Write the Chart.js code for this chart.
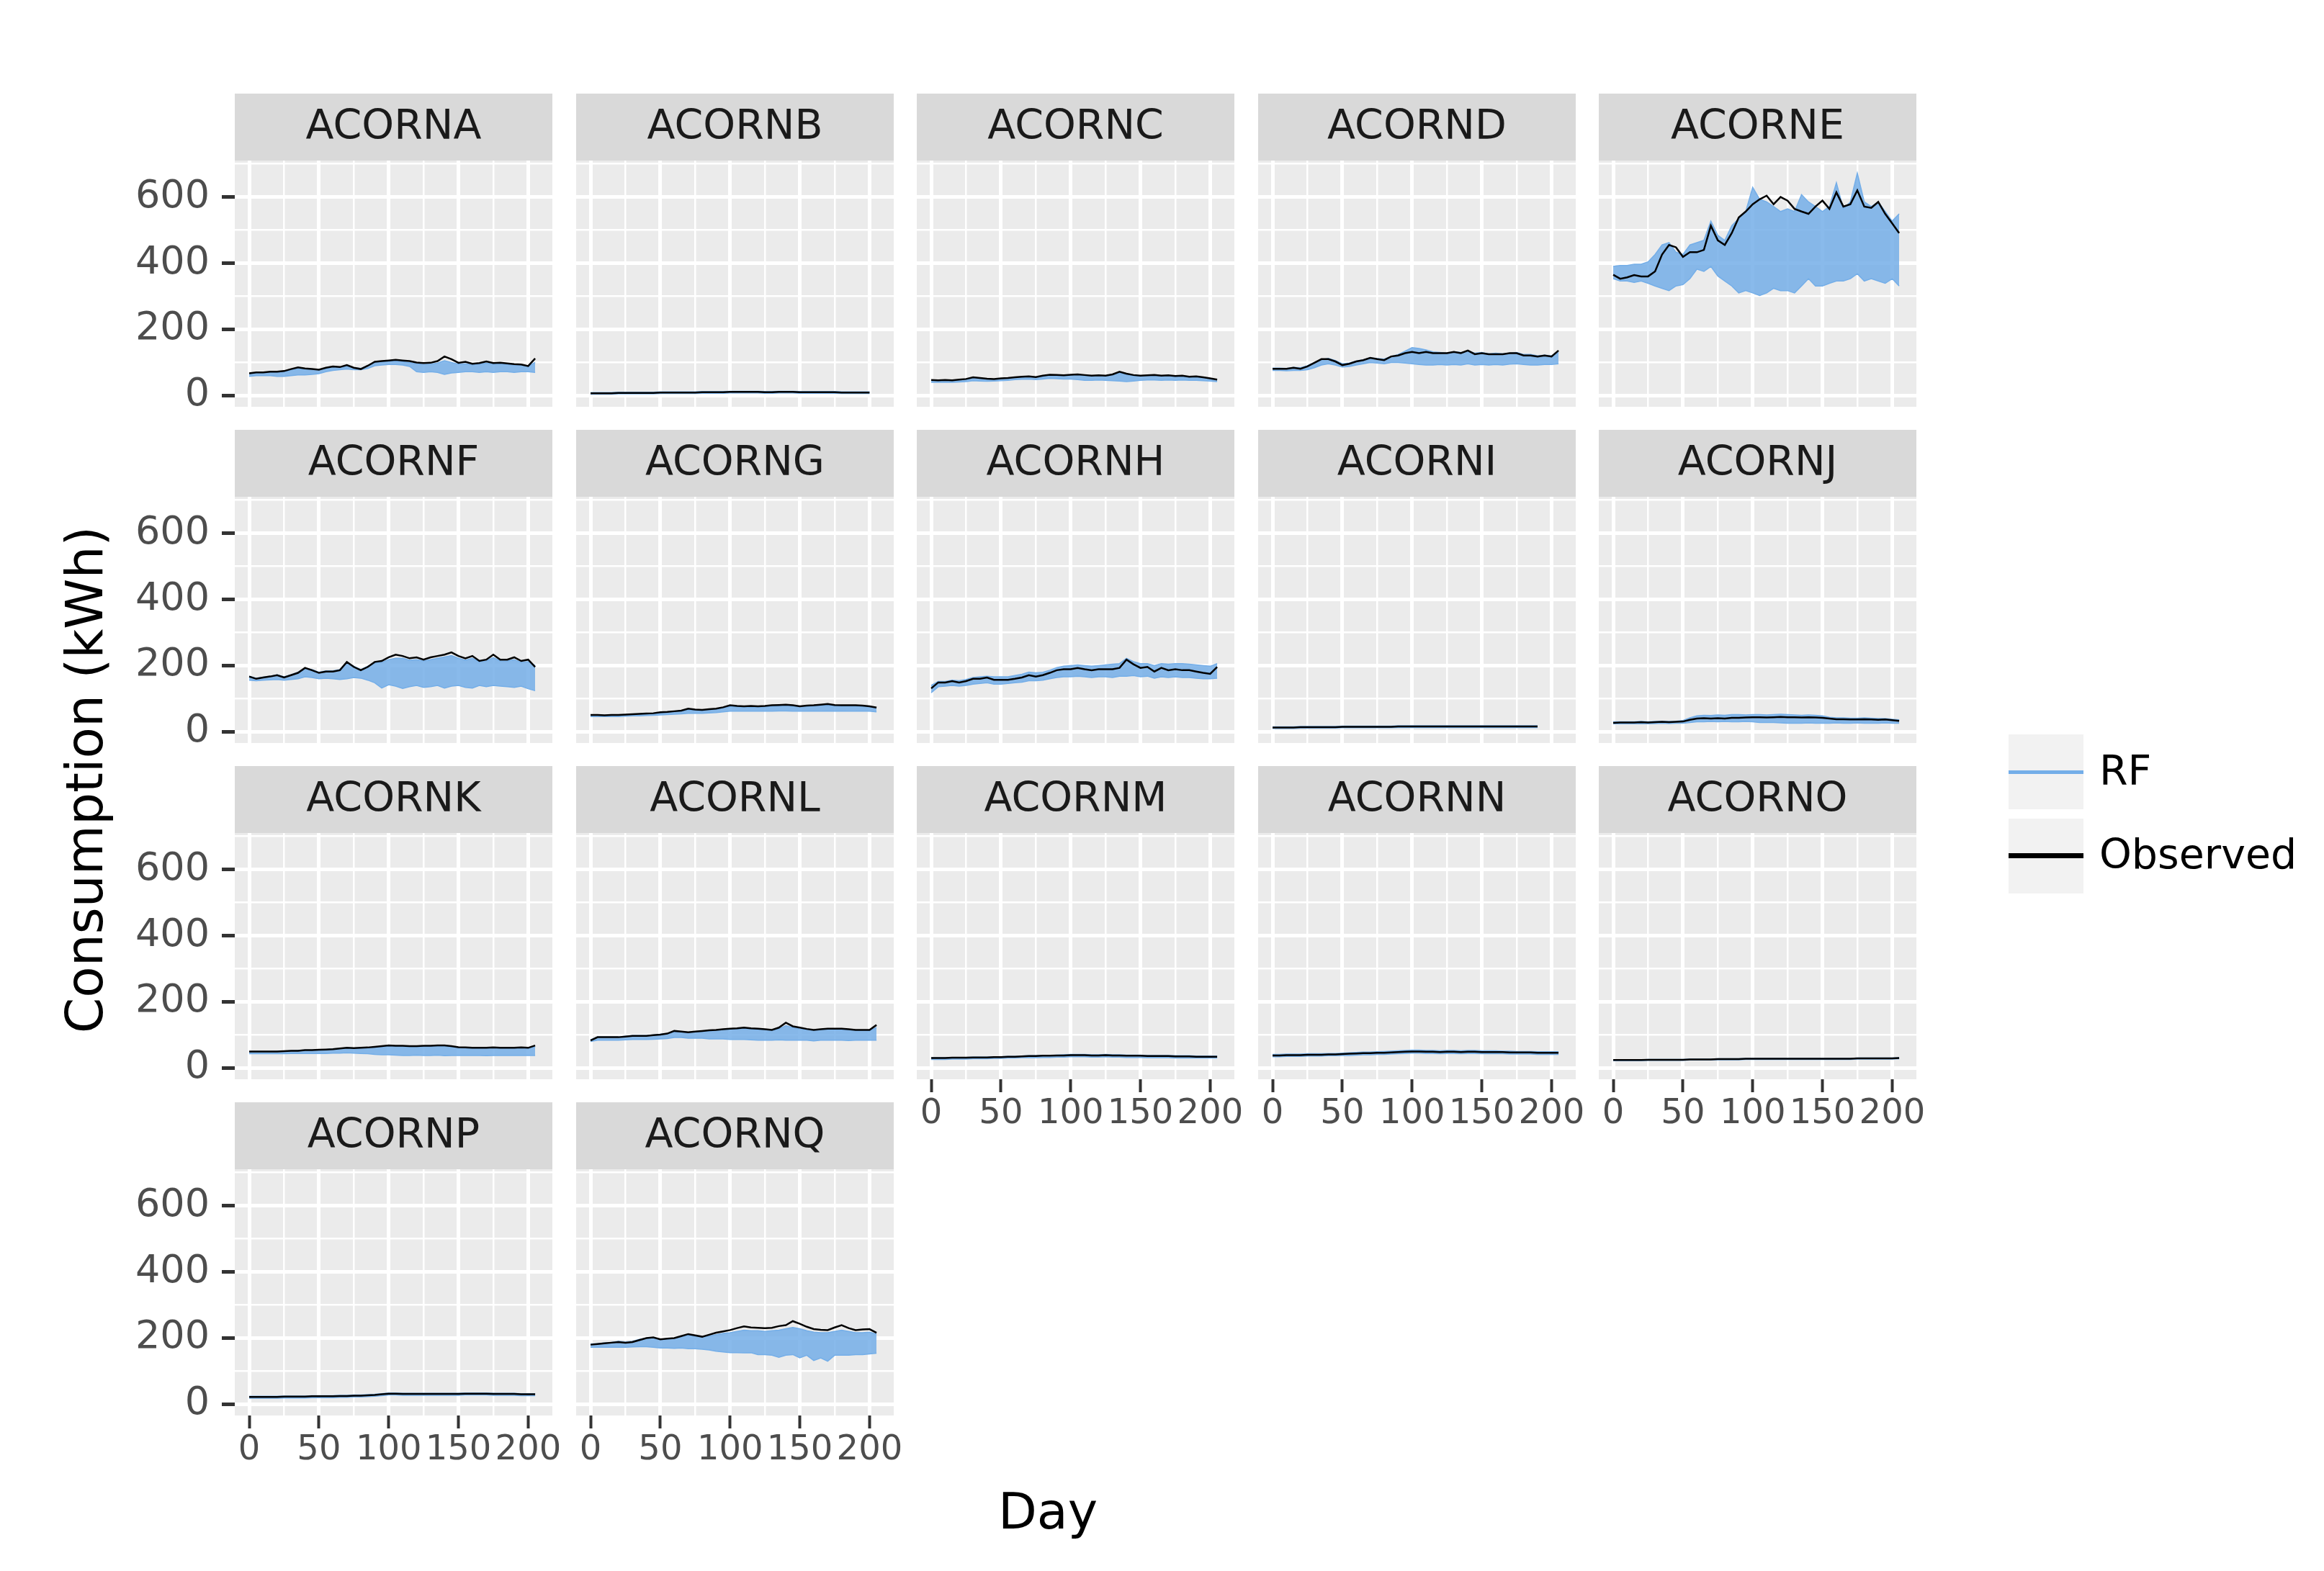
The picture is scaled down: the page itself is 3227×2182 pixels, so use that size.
<!DOCTYPE html>
<html>
<head>
<meta charset="utf-8">
<script src="https://cdn.jsdelivr.net/npm/chart.js@4.4.1/dist/chart.umd.min.js"></script>
<style>
  body { margin: 0; background: #fff; width: 3227px; height: 2182px; position: relative; overflow: hidden; font-family: "DejaVu Sans", sans-serif; }
  canvas { position: absolute; }
  #ytitle { position: absolute; left: 117px; top: 1083px; transform: translate(-50%, -50%) rotate(-90deg); font-size: 71px; white-space: nowrap; color: #000; }
  #xtitle { position: absolute; left: 1455px; top: 2099px; transform: translate(-50%, -50%); font-size: 70px; color: #000; }
  .key { position: absolute; left: 2789px; width: 104px; height: 104px; background: #f2f2f2; }
  .key div { position: absolute; left: 0; width: 104px; }
  .lab { position: absolute; left: 2915px; font-size: 57px; color: #000; transform: translateY(-50%); white-space: nowrap; }
</style>
</head>
<body>
<div id="ytitle">Consumption (kWh)</div>
<div id="xtitle">Day</div>
<div class="key" style="top:1020px"><div style="top:50px;height:5px;background:#74aee8"></div></div>
<div class="lab" style="top:1070px">RF</div>
<div class="key" style="top:1137px"><div style="top:48px;height:7px;background:#000"></div></div>
<div class="lab" style="top:1186px">Observed</div>
<script>
// days sampled every 5 days
const days = [0,5,10,15,20,25,30,35,40,45,50,55,60,65,70,75,80,85,90,95,100,105,110,115,120,125,130,135,140,145,150,155,160,165,170,175,180,185,190,195,200,205];

const obsA = [67,70,70,72,72,74,80,85,82,80,78,84,88,86,92,84,80,90,102,104,106,108,106,104,100,98,99,104,118,110,99,102,96,98,103,98,99,97,95,94,89,112];
const rfHiA = [66,68,68,70,70,72,78,80,80,80,78,82,86,84,88,84,82,90,100,102,104,104,102,100,96,94,95,98,105,100,95,96,93,95,98,95,96,94,92,92,88,100];
const rfLoA = [58,60,60,60,58,58,60,62,62,64,66,72,76,78,80,78,78,82,90,92,94,94,92,88,72,70,72,70,64,68,70,72,72,70,72,70,72,72,70,72,72,70];

const obsB = [7,7,7,7,8,8,8,8,8,8,9,9,9,9,9,9,10,10,10,10,11,11,11,11,11,10,10,11,11,11,10,10,10,10,10,10,9,9,9,9,9,null];
const rfHiB = [9,9,9,9,10,10,10,10,10,10,11,11,11,11,11,11,12,12,12,12,13,13,13,13,13,12,12,13,13,13,12,12,12,12,12,12,11,11,11,11,11,null];
const rfLoB = [4,4,4,4,5,5,5,5,5,5,6,6,6,6,6,6,7,7,7,7,8,8,8,8,8,7,7,8,8,8,7,7,7,7,7,7,6,6,6,6,6,null];

const obsC = [47,46,47,46,48,50,55,53,51,50,52,53,55,57,58,56,60,63,62,61,63,64,62,60,61,60,64,72,66,62,60,61,62,60,61,59,60,57,58,55,52,48];
const rfHiC = [46,45,46,45,47,49,53,52,50,49,51,52,54,56,57,55,58,61,60,60,61,62,60,59,60,59,62,68,64,60,59,60,60,59,60,58,58,56,57,54,51,47];
const rfLoC = [40,40,40,40,41,42,45,44,43,44,45,46,48,49,50,48,50,52,51,50,50,48,46,46,47,46,45,44,42,44,46,47,47,46,47,46,47,46,46,45,44,42];

const obsD = [81,81,81,84,81,88,99,110,110,103,92,96,103,107,114,110,107,118,121,128,132,128,132,128,128,128,132,128,136,125,128,125,125,125,128,128,121,121,118,121,118,136];
const rfHiD = [83,83,82,85,84,90,100,108,112,106,96,98,104,108,114,112,110,118,124,134,145,142,138,132,130,128,132,130,134,128,130,126,128,126,128,130,124,124,120,122,120,130];
const rfLoD = [76,76,75,76,76,78,84,92,96,92,86,88,92,96,100,98,96,100,100,98,96,94,92,92,94,92,94,92,96,92,94,92,94,92,95,96,94,92,92,94,94,96];

const obsE = [365,353,357,364,360,360,375,426,455,448,419,433,433,440,513,469,455,491,538,556,578,593,604,578,600,589,564,556,549,571,589,564,614,571,578,620,571,567,585,549,520,491];
const rfHiE = [390,393,393,397,397,404,426,455,462,433,426,455,462,469,527,484,469,513,535,556,629,593,585,571,556,564,556,607,585,571,556,571,643,564,585,672,585,571,585,556,527,549];
const rfLoE = [353,346,346,342,346,339,331,324,317,331,335,353,382,375,390,361,346,331,310,317,310,302,310,324,317,317,310,331,353,331,331,339,346,346,353,368,346,353,346,339,353,331];

const obsF = [167,160,164,167,171,164,171,178,193,186,178,182,182,186,211,196,186,196,211,214,225,233,229,222,225,218,225,229,233,240,229,222,229,214,218,233,218,218,225,214,218,196];
const rfHiF = [168,162,165,168,172,166,172,180,192,188,180,184,184,188,210,198,188,198,208,210,218,222,222,216,218,214,218,222,226,230,222,216,222,212,214,224,214,214,218,210,212,200];
const rfLoF = [156,154,156,157,158,156,158,160,166,164,160,162,160,158,160,164,162,156,148,132,142,138,131,136,140,134,136,140,132,138,140,134,132,140,136,140,138,136,134,138,130,124];

const obsG = [51,51,50,51,51,52,53,54,55,56,59,60,62,64,70,67,66,68,70,74,80,78,77,78,77,78,80,81,82,80,77,79,80,82,84,81,80,80,80,79,77,73];
const rfHiG = [50,50,50,50,50,51,52,53,54,55,57,58,60,62,66,65,64,66,68,72,76,76,75,75,75,76,77,78,79,78,76,77,78,79,80,79,78,78,78,77,76,72];
const rfLoG = [46,46,46,46,46,47,48,48,49,50,51,52,53,54,56,56,56,57,58,60,62,62,62,62,62,62,62,63,63,62,62,62,63,62,63,62,63,62,62,63,62,60];

const obsH = [131,149,149,153,149,153,160,160,164,157,157,157,160,164,171,167,171,178,186,189,189,193,189,186,189,189,189,193,218,204,193,196,182,193,186,189,186,186,182,178,175,196];
const rfHiH = [140,152,152,156,154,158,164,166,168,166,166,166,170,174,180,178,180,186,194,198,200,202,200,198,200,202,204,206,222,212,206,206,200,206,204,206,206,204,202,200,198,206];
const rfLoH = [118,136,138,140,138,140,144,146,148,144,144,146,148,150,154,154,156,160,164,166,166,168,166,164,166,166,164,168,168,170,166,168,162,166,164,166,164,164,162,160,160,162];

const obsI = [13,13,13,13,14,14,14,14,14,14,15,15,15,15,15,15,15,15,16,16,16,16,16,16,16,16,16,16,16,16,16,16,16,16,16,16,16,16,16,null,null,null];
const rfHiI = [15,15,15,15,16,16,16,16,16,16,17,17,17,17,17,17,17,17,18,18,18,18,18,18,18,18,18,18,18,18,18,18,18,18,18,18,18,18,18,null,null,null];
const rfLoI = [10,10,10,10,11,11,11,11,11,11,12,12,12,12,12,12,12,12,13,13,13,13,13,13,13,13,13,13,13,13,13,13,13,13,13,13,13,13,13,null,null,null];

const obsJ = [27,28,28,28,29,28,29,30,29,30,31,36,40,41,40,41,40,42,42,43,44,44,43,44,45,44,44,43,44,43,42,40,38,38,37,37,38,37,36,37,35,33];
const rfHiJ = [30,30,30,30,31,30,31,32,31,32,34,42,48,50,49,51,50,52,52,51,52,52,51,52,53,52,51,50,51,50,48,44,42,42,41,41,42,41,40,40,38,36];
const rfLoJ = [24,24,24,24,25,24,25,26,25,26,26,28,30,30,31,30,31,30,30,31,30,28,28,28,27,26,26,26,27,26,26,26,27,26,26,27,26,26,26,27,26,26];

const obsK = [50,50,50,50,50,51,52,52,54,54,55,56,57,59,61,60,61,62,64,66,68,67,67,66,66,67,67,68,68,66,63,62,61,61,61,62,61,61,61,62,61,68];
const rfHiK = [50,50,50,50,51,51,52,53,54,54,55,56,58,59,61,60,61,62,63,64,66,65,65,64,64,65,65,66,66,64,62,61,60,60,60,61,60,60,60,61,60,64];
const rfLoK = [43,43,43,43,43,43,44,44,44,44,44,44,45,45,46,45,44,43,41,40,40,39,38,38,39,38,38,39,37,38,38,38,38,38,37,38,38,38,38,38,38,38];

const obsL = [83,93,93,93,93,95,97,97,97,99,101,104,112,110,108,110,112,114,115,117,119,120,122,120,119,117,115,122,137,126,122,118,115,117,119,119,119,117,115,115,115,130];
const rfHiL = [85,94,94,94,94,96,98,98,98,100,102,104,110,110,108,110,110,112,114,116,118,118,120,118,116,116,114,118,128,122,118,116,114,116,117,116,116,115,114,114,113,122];
const rfLoL = [80,84,84,84,84,85,86,86,86,87,88,89,92,92,90,90,90,88,88,88,86,86,86,85,84,84,84,85,84,84,84,84,82,84,84,84,84,83,84,84,84,84];

const obsM = [30,30,30,31,31,31,32,32,32,33,33,34,34,35,36,36,37,37,38,38,39,39,39,38,38,39,38,38,37,37,37,36,36,36,36,35,35,35,34,34,34,34];
const rfHiM = [31,31,31,32,32,32,33,33,33,34,34,35,35,36,37,37,38,38,39,40,41,41,41,40,40,41,40,40,39,39,39,38,38,38,38,37,37,37,36,36,36,36];
const rfLoM = [26,26,26,27,27,27,28,28,28,29,29,30,30,31,31,31,32,32,33,33,34,34,34,33,33,34,33,33,32,32,32,31,31,31,31,30,30,30,30,30,30,30];

const obsN = [38,38,39,39,39,40,40,40,41,41,42,43,44,45,45,46,46,47,48,49,50,50,49,49,48,49,49,48,49,49,48,48,48,48,47,47,47,47,46,46,46,46];
const rfHiN = [41,41,42,42,42,43,43,43,44,44,45,46,47,48,48,49,50,51,52,53,54,54,53,53,52,53,53,52,53,53,52,52,52,51,51,50,50,50,49,49,49,49];
const rfLoN = [34,34,35,35,35,36,36,36,37,37,38,38,39,40,40,41,41,42,43,44,45,45,44,44,43,44,44,43,44,44,43,43,43,43,42,42,42,42,41,41,41,41];

const obsO = [24,24,24,24,24,25,25,25,25,25,25,26,26,26,26,27,27,27,27,28,28,28,28,28,28,28,28,28,28,28,28,28,28,28,28,29,29,29,29,29,29,30];
const rfHiO = [25,25,25,25,25,26,26,26,26,26,26,27,27,27,27,28,28,28,28,29,29,29,29,29,29,29,29,29,29,29,29,29,29,29,29,30,30,30,30,30,30,31];
const rfLoO = [22,22,22,22,22,23,23,23,23,23,23,24,24,24,24,25,25,25,25,26,26,26,26,26,26,26,26,26,26,26,26,26,26,26,26,27,27,27,27,27,27,28];

const obsP = [22,22,22,22,22,23,23,23,23,24,24,24,24,25,25,26,26,27,28,30,32,32,31,31,31,31,31,31,31,31,31,32,32,32,32,31,31,31,31,30,30,30];
const rfHiP = [24,24,24,24,24,25,25,25,25,26,26,26,26,27,27,28,28,29,30,32,34,34,33,33,33,33,33,33,33,33,33,34,34,34,34,33,33,33,33,32,32,32];
const rfLoP = [18,18,18,18,18,19,19,19,19,20,20,20,20,21,21,22,22,23,24,26,28,28,27,27,27,27,27,27,27,27,27,28,28,28,28,27,27,27,27,26,26,26];

const obsQ = [180,182,184,186,188,186,188,194,200,202,196,198,200,206,212,208,204,210,216,220,224,230,235,232,231,230,231,236,239,251,243,234,227,225,224,232,239,230,224,226,227,216];
const rfHiQ = [182,183,185,187,190,188,190,196,200,200,196,198,200,204,208,206,204,206,210,214,216,220,224,222,222,220,222,224,228,232,228,222,218,216,216,220,224,220,216,216,218,212];
const rfLoQ = [172,172,172,172,172,172,173,174,174,172,170,170,169,170,168,168,166,164,160,158,156,156,155,156,150,150,148,142,148,150,140,148,132,140,130,148,148,148,150,150,152,154];

const yTicks = [0, 200, 400, 600];
const xTicks = [0, 50, 100, 150, 200];

const panels = [
  { name: 'ACORNA', obs: obsA, hi: rfHiA, lo: rfLoA },
  { name: 'ACORNB', obs: obsB, hi: rfHiB, lo: rfLoB },
  { name: 'ACORNC', obs: obsC, hi: rfHiC, lo: rfLoC },
  { name: 'ACORND', obs: obsD, hi: rfHiD, lo: rfLoD },
  { name: 'ACORNE', obs: obsE, hi: rfHiE, lo: rfLoE },
  { name: 'ACORNF', obs: obsF, hi: rfHiF, lo: rfLoF },
  { name: 'ACORNG', obs: obsG, hi: rfHiG, lo: rfLoG },
  { name: 'ACORNH', obs: obsH, hi: rfHiH, lo: rfLoH },
  { name: 'ACORNI', obs: obsI, hi: rfHiI, lo: rfLoI },
  { name: 'ACORNJ', obs: obsJ, hi: rfHiJ, lo: rfLoJ },
  { name: 'ACORNK', obs: obsK, hi: rfHiK, lo: rfLoK },
  { name: 'ACORNL', obs: obsL, hi: rfHiL, lo: rfLoL },
  { name: 'ACORNM', obs: obsM, hi: rfHiM, lo: rfLoM },
  { name: 'ACORNN', obs: obsN, hi: rfHiN, lo: rfLoN },
  { name: 'ACORNO', obs: obsO, hi: rfHiO, lo: rfLoO },
  { name: 'ACORNP', obs: obsP, hi: rfHiP, lo: rfLoP },
  { name: 'ACORNQ', obs: obsQ, hi: rfHiQ, lo: rfLoQ }
];

const RF = '#74aee8';
const RF_FILL = 'rgba(116, 174, 232, 0.85)';
const colLeft = [326, 800, 1273, 1747, 2220];
const rowTop = [130, 597, 1064, 1531];
const PW = 441, PH = 342, STRIP = 93;

Chart.defaults.font.family = '"DejaVu Sans", sans-serif';

// grey panel + facet strip
const stripPlugin = {
  id: 'strip',
  beforeDraw(chart, args, opts) {
    const { ctx, chartArea: a } = chart;
    ctx.save();
    ctx.fillStyle = '#ebebeb';
    ctx.fillRect(a.left, a.top, a.right - a.left, a.bottom - a.top);
    ctx.fillStyle = '#d9d9d9';
    ctx.fillRect(a.left, a.top - STRIP, a.right - a.left, STRIP);
    ctx.fillStyle = '#1a1a1a';
    ctx.font = '57px "DejaVu Sans"';
    ctx.textAlign = 'center';
    ctx.textBaseline = 'middle';
    ctx.fillText(opts.text, (a.left + a.right) / 2, a.top - STRIP / 2 + 2);
    ctx.restore();
  }
};

const pts = arr => days.map((d, k) => ({ x: d, y: arr[k] }));

panels.forEach((p, i) => {
  const r = Math.floor(i / 5), c = i % 5;
  const isLeft = c === 0, isBottom = i >= 12;
  const yW = isLeft ? 240 : 0, xH = isBottom ? 120 : 0;
  const padL = 40, padR = 70, padB = 60;

  const cv = document.createElement('canvas');
  cv.width = padL + yW + PW + padR;
  cv.height = STRIP + PH + xH + padB;
  cv.style.left = (colLeft[c] - yW - padL) + 'px';
  cv.style.top = rowTop[r] + 'px';
  document.body.appendChild(cv);

  new Chart(cv, {
    type: 'line',
    data: {
      datasets: [
        { label: 'Observed', data: pts(p.obs), borderColor: '#000', borderWidth: 2.5, pointRadius: 0, fill: false },
        { label: 'RF', data: pts(p.hi), borderColor: RF, borderWidth: 1.5, pointRadius: 0, fill: false },
        { label: 'RF', data: pts(p.lo), borderColor: RF, borderWidth: 1.5, pointRadius: 0, fill: '-1', backgroundColor: RF_FILL }
      ]
    },
    options: {
      responsive: false,
      animation: false,
      devicePixelRatio: 1,
      layout: { padding: { left: padL, top: STRIP, right: padR, bottom: padB } },
      plugins: {
        legend: { display: false },
        tooltip: { enabled: false },
        strip: { text: p.name }
      },
      scales: {
        x: {
          type: 'linear',
          min: -10.35,
          max: 217.35,
          border: { display: false },
          grid: {
            color: '#fff',
            lineWidth: ctx => (ctx.tick && xTicks.includes(ctx.tick.value)) ? 5 : 2.5,
            drawTicks: isBottom,
            tickLength: 18,
            tickWidth: ctx => (ctx.tick && xTicks.includes(ctx.tick.value)) ? 4 : 0,
            tickColor: '#333333'
          },
          ticks: {
            display: isBottom,
            stepSize: 25,
            includeBounds: false,
            autoSkip: false,
            maxRotation: 0,
            minRotation: 0,
            padding: 2,
            color: '#4d4d4d',
            font: { size: 48 },
            callback: v => xTicks.includes(v) ? String(v) : ''
          },
          afterFit: s => { s.height = xH; }
        },
        y: {
          min: -34,
          max: 710,
          border: { display: false },
          grid: {
            color: '#fff',
            lineWidth: ctx => (ctx.tick && yTicks.includes(ctx.tick.value)) ? 5 : 2.5,
            drawTicks: isLeft,
            tickLength: 18,
            tickWidth: ctx => (ctx.tick && yTicks.includes(ctx.tick.value)) ? 5 : 0,
            tickColor: '#333333'
          },
          ticks: {
            display: isLeft,
            stepSize: 100,
            includeBounds: false,
            autoSkip: false,
            padding: 17,
            color: '#4d4d4d',
            font: { size: 54 },
            callback: v => yTicks.includes(v) ? String(v) : ''
          },
          afterFit: s => { s.width = yW; }
        }
      }
    },
    plugins: [stripPlugin]
  });
});
</script>
</body>
</html>
